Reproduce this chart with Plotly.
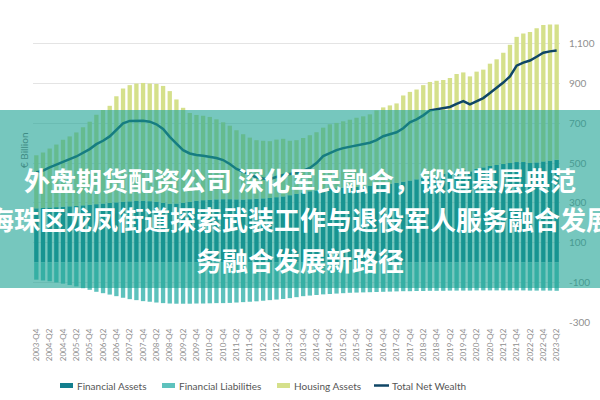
import plotly.graph_objects as go

# ---- data (EUR billion), quarterly 2003-Q4 .. 2023-Q2 ----
quarters = []
for yr in range(2003, 2024):
    for q in range(1, 5):
        if (yr == 2003 and q < 4) or (yr == 2023 and q > 2):
            continue
        quarters.append(f"{yr}-Q{q}")

financial_assets = [
    272, 274, 276, 278, 280, 282, 284, 287, 290, 293,
    296, 299, 302, 305, 307, 309, 310, 308, 305, 300,
    295, 296, 300, 305, 310, 313, 315, 317, 318, 318,
    317, 316, 318, 320, 322, 324, 328, 332, 338, 345,
    352, 358, 362, 366, 370, 373, 376, 378, 380, 383,
    386, 389, 392, 396, 400, 406, 412, 418, 425, 432,
    440, 446, 452, 458, 465, 458, 470, 478, 485, 490,
    495, 500, 505, 505, 500, 503, 508, 512, 516]

housing_assets = [
    267, 279, 297, 315, 337, 352, 370, 393, 418, 450,
    471, 489, 534, 570, 585, 591, 593, 592, 593, 588,
    567, 524, 478, 447, 432, 425, 417, 403, 387, 370,
    348, 329, 310, 295, 290, 286, 290, 290, 274, 270,
    274, 282, 293, 312, 325, 329, 334, 340, 348, 352,
    359, 376, 388, 394, 400, 434, 446, 452, 467, 476,
    474, 472, 476, 490, 491, 478, 490, 492, 515, 532,
    560, 595, 630, 647, 660, 675, 687, 685, 681]

financial_liabilities = [
    -87, -91, -95, -101, -107, -114, -121, -130, -138, -148,
    -155, -162, -170, -178, -185, -190, -195, -198, -202, -205,
    -207, -208, -208, -208, -207, -207, -206, -205, -205, -204,
    -202, -200, -198, -196, -193, -190, -187, -184, -180, -175,
    -170, -167, -164, -161, -159, -157, -155, -153, -152, -151,
    -150, -149, -148, -147, -146, -145, -145, -144, -144, -143,
    -143, -143, -142, -142, -142, -142, -141, -141, -141, -141,
    -141, -141, -141, -141, -142, -142, -142, -142, -143]

total_net_wealth = [
    452, 462, 478, 492, 510, 520, 533, 550, 570, 595,
    612, 634, 665, 700, 712, 714, 713, 708, 695, 672,
    632, 598, 565, 548, 540, 537, 532, 525, 515, 495,
    470, 455, 440, 428, 422, 420, 430, 440, 445, 450,
    462, 475, 500, 535, 550, 565, 575, 582, 588, 598,
    602, 615, 635, 645, 655, 675, 705, 720, 740, 765,
    770, 775, 782, 798, 812, 795, 812, 827, 852, 877,
    905, 936, 990, 1005, 1016, 1035, 1055, 1062, 1066]

y_ticks = [-300, -100, 100, 300, 500, 700, 900, 1100]
y_tick_text = ["-300", "-100", "100", "300", "500", "700", "900", "1,100"]

series_names = ["Financial Assets", "Financial Liabilities",
                "Housing Assets", "Total Net Wealth"]

banner_lines = [
    "外盘期货配资公司 深化军民融合，锻造基层典范",
    "海珠区龙凤街道探索武装工作与退役军人服务融合发展",
    "务融合发展新路径",
]

# ---- figure ----
C_FA = "#137f8e"
C_FL = "#5ec2bd"
C_HA = "#d5e08b"
C_NW = "#0f4666"
colors = [C_FA, C_FL, C_HA, C_NW]

fig = go.Figure()
fig.add_bar(x=quarters, y=financial_assets, name=series_names[0],
            marker=dict(color=C_FA, line=dict(width=0)))
fig.add_bar(x=quarters, y=financial_liabilities, name=series_names[1],
            marker=dict(color=C_FL, line=dict(width=0)))
fig.add_bar(x=quarters, y=housing_assets, name=series_names[2],
            marker=dict(color=C_HA, line=dict(width=0)))
fig.add_scatter(x=quarters, y=total_net_wealth, name=series_names[3],
                mode="lines", line=dict(color=C_NW, width=2.5))

L, R, T, B = 33, 40, 14, 78
W, H = 600, 400
pw = W - L - R
ph = H - T - B

def px_x(p):
    return (p - L) / pw

def px_y(p):
    return (H - B - p) / ph

fig.update_layout(
    width=W, height=H,
    margin=dict(l=L, r=R, t=T, b=B, pad=0, autoexpand=False),
    paper_bgcolor="white", plot_bgcolor="white",
    barmode="relative", bargap=0.35,
    font=dict(family="Lato, 'Noto Sans', sans-serif", color="#666"),
    showlegend=False,
    xaxis=dict(
        type="category", tickmode="array", tickvals=quarters[::2],
        tickangle=-90, tickfont=dict(size=8, color="#8f8f8f"),
        showgrid=False, showline=False, ticks="", zeroline=False,
        range=[-0.5, len(quarters) - 0.5], ticklabelstandoff=4,
        automargin=False,
    ),
    yaxis=dict(
        side="right", range=[-300, 1250], tickmode="array",
        tickvals=y_ticks, ticktext=y_tick_text,
        tickfont=dict(size=10, color="#8f8f8f"),
        showgrid=True, gridcolor="#e4e4e4", gridwidth=1,
        zeroline=False, showline=False, ticks="", ticklabelstandoff=8,
        automargin=False,
    ),
)

# axis title (left)
fig.add_annotation(text="€ Billion", x=px_x(16), y=px_y(150), xref="paper",
                   yref="paper", textangle=-90, showarrow=False,
                   font=dict(size=10, color="#3f8c85"))

# custom legend
leg_y = 385.5
leg_sw = [60, 162, 277, 374]
for i, (nm, col, sx) in enumerate(zip(series_names, colors, leg_sw)):
    if i < 3:
        fig.add_shape(type="rect", xref="paper", yref="paper",
                      x0=px_x(sx), x1=px_x(sx + 13),
                      y0=px_y(leg_y + 2.5), y1=px_y(leg_y - 2.5),
                      fillcolor=col, line=dict(width=0))
        tx = sx + 15
    else:
        fig.add_shape(type="line", xref="paper", yref="paper",
                      x0=px_x(sx), x1=px_x(sx + 15),
                      y0=px_y(leg_y), y1=px_y(leg_y),
                      line=dict(color=col, width=2.5))
        tx = sx + 16
    fig.add_annotation(text=nm, x=px_x(tx), y=px_y(leg_y), xref="paper",
                       yref="paper", showarrow=False, xanchor="left",
                       yanchor="middle", font=dict(size=10, color="#555"))

# overlay banner
fig.add_shape(type="rect", xref="paper", yref="paper",
              x0=px_x(-5), x1=px_x(605), y0=px_y(288), y1=px_y(110),
              fillcolor="rgba(27,162,147,0.6)", line=dict(width=0),
              layer="above")
for txt, yc in zip(banner_lines, [179, 218, 259]):
    fig.add_annotation(text=f"<b>{txt}</b>", x=px_x(300), y=px_y(yc),
                       xref="paper", yref="paper", showarrow=False,
                       xanchor="center", yanchor="middle",
                       font=dict(family="Noto Sans CJK SC", size=26,
                                 color="white"))

fig.write_html("out.html")
